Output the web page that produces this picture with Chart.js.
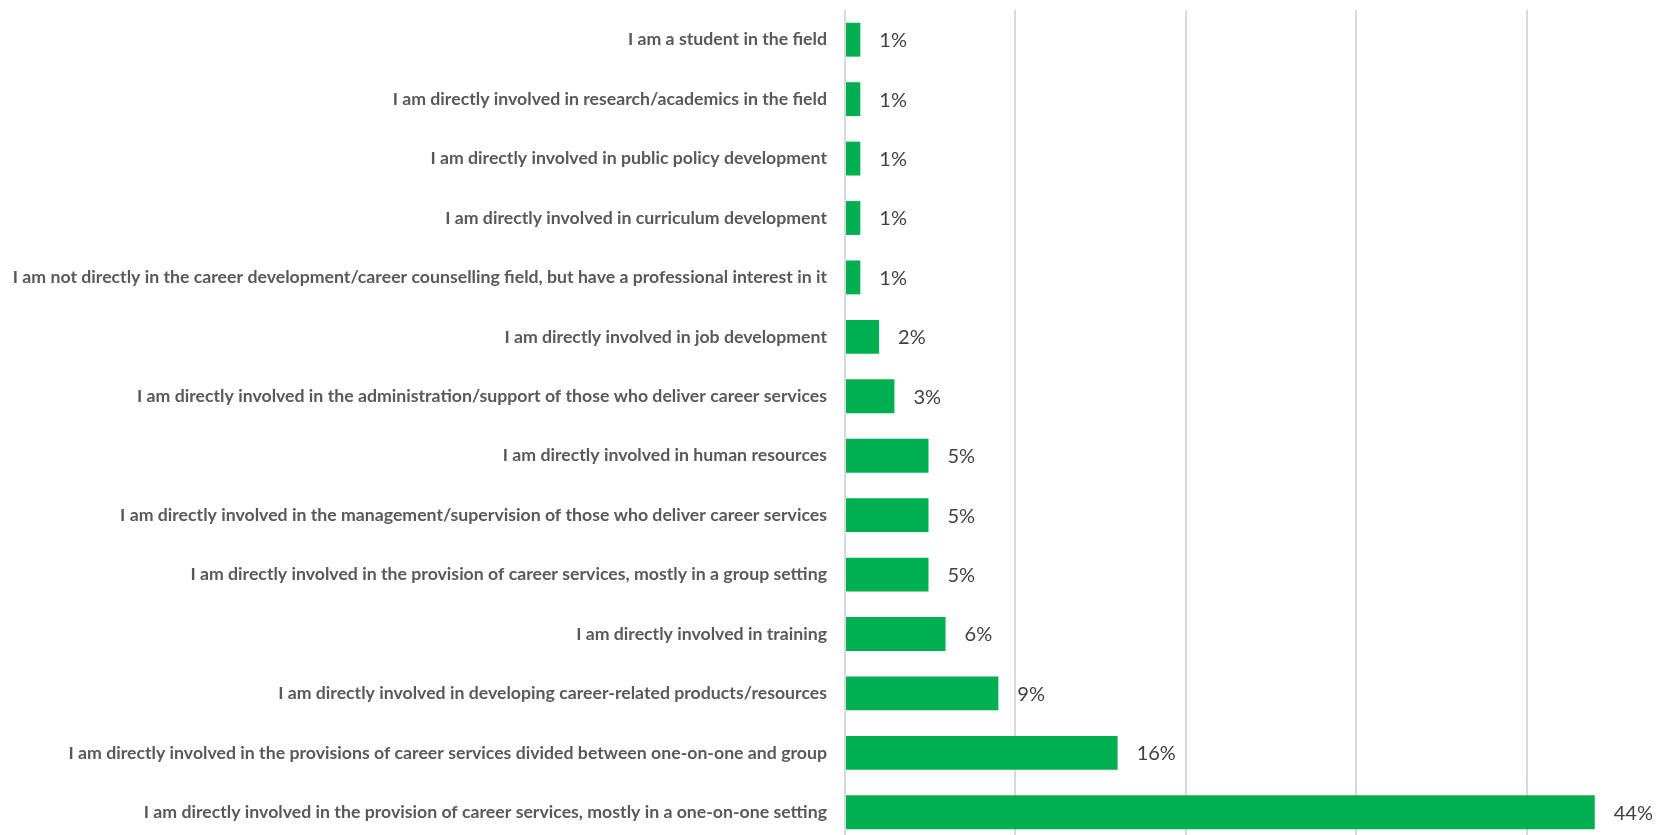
<!DOCTYPE html>
<html>
<head>
<meta charset="utf-8">
<script src="https://cdn.jsdelivr.net/npm/chart.js@4.4.1/dist/chart.umd.min.js"></script>
<style>
  html, body { margin: 0; padding: 0; background: #fff; overflow: hidden; }
  .chart-box { width: 1700px; height: 842px; position: relative; }
</style>
</head>
<body>
<div class="chart-box"><canvas id="rolesChart"></canvas></div>
<script>
const categories = [
    'I am a student in the field',
    'I am directly involved in research/academics in the field',
    'I am directly involved in public policy development',
    'I am directly involved in curriculum development',
    'I am not directly in the career development/career counselling field, but have a professional interest in it',
    'I am directly involved in job development',
    'I am directly involved in the administration/support of those who deliver career services',
    'I am directly involved in human resources',
    'I am directly involved in the management/supervision of those who deliver career services',
    'I am directly involved in the provision of career services, mostly in a group setting',
    'I am directly involved in training',
    'I am directly involved in developing career-related products/resources',
    'I am directly involved in the provisions of career services divided between one-on-one and group',
    'I am directly involved in the provision of career services, mostly in a one-on-one setting'
];
const percentValues = [0.9, 0.9, 0.9, 0.9, 0.9, 2.0, 2.9, 4.9, 4.9, 4.9, 5.9, 9.0, 16.0, 44.0];
const valueLabels = ['1%', '1%', '1%', '1%', '1%', '2%', '3%', '5%', '5%', '5%', '6%', '9%', '16%', '44%'];
const xTicks = [0, 10, 20, 30, 40];

// draw the percent labels next to each bar
const barLabels = {
    id: 'barLabels',
    afterDatasetsDraw(chart) {
        const ctx = chart.ctx;
        const meta = chart.getDatasetMeta(0);
        ctx.save();
        ctx.font = '20px Lato, "Open Sans", sans-serif';
        ctx.fillStyle = '#404040';
        ctx.textAlign = 'left';
        ctx.textBaseline = 'middle';
        meta.data.forEach((bar, i) => {
            ctx.fillText(valueLabels[i], bar.x + 19, bar.y + 1);
        });
        ctx.restore();
    }
};

new Chart(document.getElementById('rolesChart'), {
    type: 'bar',
    data: {
        labels: categories,
        datasets: [{
            data: percentValues,
            backgroundColor: '#00B050',
            categoryPercentage: 1,
            barPercentage: 0.57
        }]
    },
    options: {
        indexAxis: 'y',
        responsive: true,
        maintainAspectRatio: false,
        animation: false,
        layout: { padding: { top: 10, bottom: 0, left: 0, right: 3 } },
        plugins: { legend: { display: false }, tooltip: { enabled: false } },
        scales: {
            x: {
                min: 0,
                max: 50,
                afterBuildTicks: (s) => { s.ticks = xTicks.map(v => ({ value: v })); },
                afterFit: (s) => { s.height = 0; s.paddingLeft = 0; s.paddingRight = 0; },
                ticks: { display: false },
                grid: { color: '#d9d9d9', lineWidth: 2, drawTicks: false },
                border: { display: false }
            },
            y: {
                afterFit: (s) => { s.width = 845; s.paddingTop = 0; s.paddingBottom = 0; },
                ticks: {
                    color: '#595959',
                    font: { family: 'Lato, "Open Sans", sans-serif', size: 17.7, weight: 'bold' },
                    padding: 18,
                    autoSkip: false
                },
                grid: { display: false, drawTicks: false },
                border: { display: false }
            }
        }
    },
    plugins: [barLabels]
});
</script>
</body>
</html>
